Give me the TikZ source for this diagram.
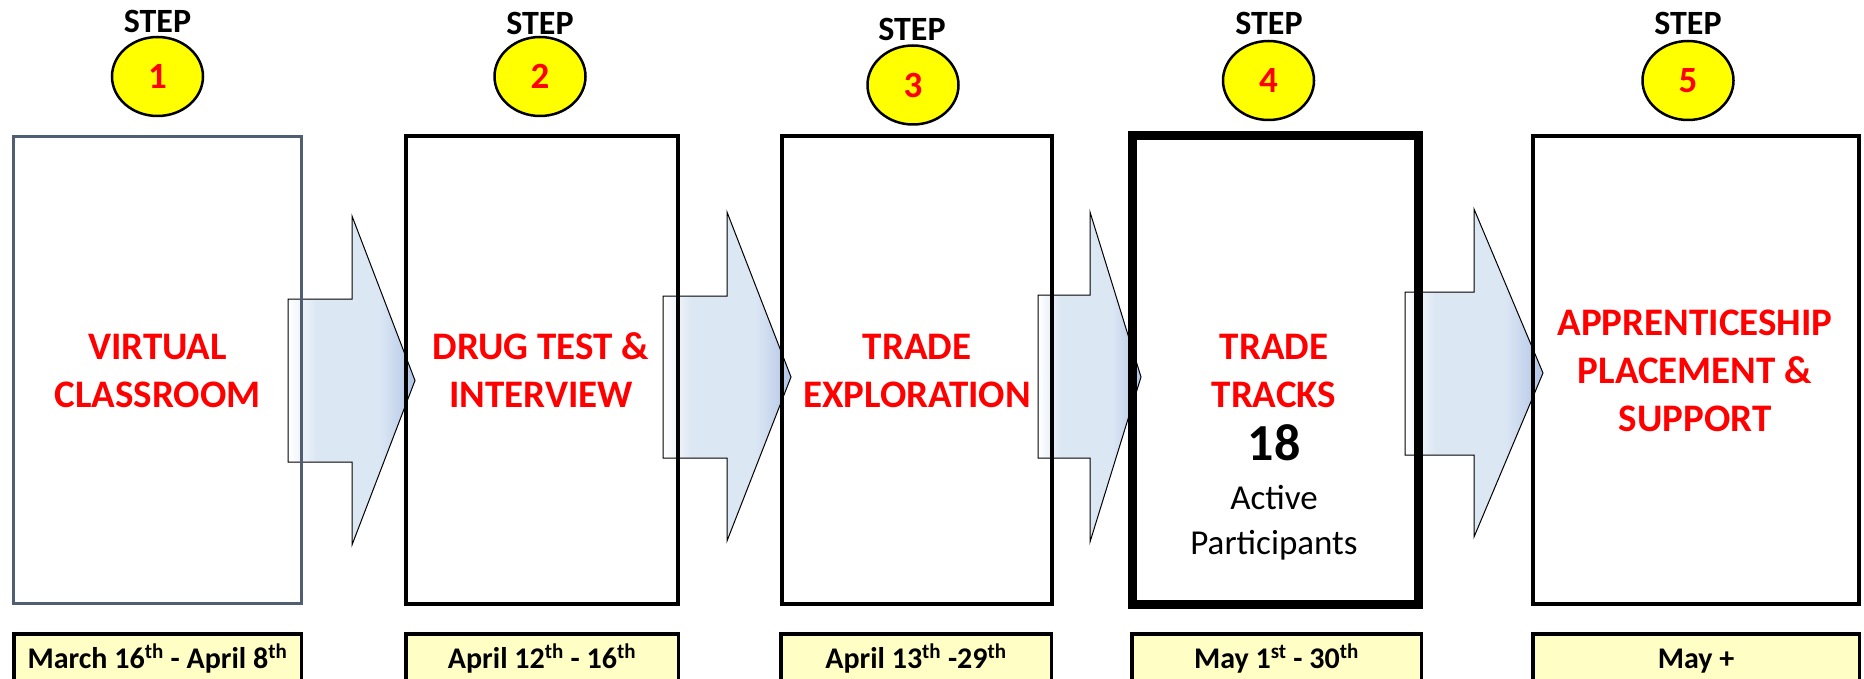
\documentclass[tikz,border=0pt]{standalone}
\usepackage{fontspec}
\setmainfont{Carlito}
\usetikzlibrary{shapes.geometric}
\definecolor{boxgray}{RGB}{80,94,114}
\definecolor{stepred}{RGB}{255,0,0}
\definecolor{stepyellow}{RGB}{255,255,0}
\definecolor{datefill}{RGB}{255,255,197}
\definecolor{ablight}{RGB}{220,231,244}
\definecolor{abdark}{RGB}{178,197,231}
\pgfdeclarehorizontalshading{arrowshade}{100bp}{color(0bp)=(white); color(25bp)=(white); color(36bp)=(ablight); color(61bp)=(ablight); color(75bp)=(abdark); color(100bp)=(abdark)}
\newcommand\blockarrowdraw[8]{%
  \path[blockarrow] (#1,#2) -- (#4,#2) -- (#4,#5) -- (#7,#8) -- (#4,#6) -- (#4,#3) -- (#1,#3) -- cycle;}
\begin{document}
\begin{tikzpicture}[x=1pt,y=-1pt,
  blockarrow/.style={draw=black, line width=1pt, shading=arrowshade, line join=miter},
  mainbox/.style={draw=black, line width=4pt, minimum height=467pt, inner sep=0pt},
  datebox/.style={draw=black, line width=3.5pt, fill=datefill, minimum height=50.5pt, inner sep=0pt,
     text height=18pt, text depth=0pt, font=\fontsize{30}{36}\selectfont\bfseries},
  steplbl/.style={anchor=base, inner sep=0pt, font=\fontsize{34}{40}\selectfont\bfseries},
  stepnum/.style={ellipse, draw=black, line width=2.5pt, fill=stepyellow, minimum width=91pt,
     minimum height=79pt, inner sep=0pt, text=stepred, font=\fontsize{37}{44}\selectfont\bfseries},
  redlbl/.style={anchor=base, inner sep=0pt, text=stepred, font=\fontsize{39}{47}\selectfont\bfseries},
  blklbl/.style={anchor=base, inner sep=0pt, font=\fontsize{35}{42}\selectfont}
]
\useasboundingbox (0,0) rectangle (1864,679);

% block arrows (drawn first, under the boxes)
\blockarrowdraw{288}{299}{462}{352}{216}{545}{415}{380.5}
\blockarrowdraw{663}{296}{458}{727}{212}{541}{791}{377}
\blockarrowdraw{1038}{295}{458}{1090}{212}{542}{1141}{377}
\blockarrowdraw{1405}{292}{455}{1474}{209}{537}{1543}{373}

% main boxes
\node[mainbox, draw=boxgray, line width=3pt, minimum width=288pt] (b1) at (157.5,370) {};
\node[mainbox, minimum width=272pt] (b2) at (542,370) {};
\node[mainbox, minimum width=270pt] (b3) at (917,370) {};
\node[mainbox, line width=9pt, minimum width=286pt, minimum height=468pt] (b4) at (1275.5,370) {};
\node[mainbox, minimum width=326pt] (b5) at (1696,370) {};

% step labels and circles
\node[steplbl] (s1) at (157.5,32.5) {STEP};
\node[steplbl] (s2) at (540,34.6) {STEP};
\node[steplbl] (s3) at (912,41) {STEP};
\node[steplbl] (s4) at (1269,34.6) {STEP};
\node[steplbl] (s5) at (1688,34.6) {STEP};
\node[stepnum] (c1) at (157.5,76.5) {1};
\node[stepnum] (c2) at (540,76.5) {2};
\node[stepnum] (c3) at (913,85) {3};
\node[stepnum] (c4) at (1268.5,80.5) {4};
\node[stepnum] (c5) at (1688,80.5) {5};

% box texts
\node[redlbl] (t1a) at (157.5,359) {VIRTUAL};
\node[redlbl] (t1b) at (157.5,407) {CLASSROOM};
\node[redlbl] (t2a) at (541,359) {DRUG TEST \&};
\node[redlbl] (t2b) at (541,407) {INTERVIEW};
\node[redlbl] (t3a) at (917,359) {TRADE};
\node[redlbl] (t3b) at (917,407) {EXPLORATION};
\node[redlbl] (t4a) at (1274,359) {TRADE};
\node[redlbl] (t4b) at (1274,407) {TRACKS};
\node[anchor=base, inner sep=0pt, font=\fontsize{52}{60}\selectfont\bfseries] (t4c) at (1274,460) {18};
\node[blklbl] (t4d) at (1274,509.5) {Active};
\node[blklbl] (t4e) at (1274,554) {Participants};
\node[redlbl] (t5a) at (1695,335.5) {APPRENTICESHIP};
\node[redlbl] (t5b) at (1695,383) {PLACEMENT \&};
\node[redlbl] (t5c) at (1695,431) {SUPPORT};

% date boxes
\node[datebox, minimum width=287.5pt] (d1) at (157.5,659) {March 16\textsuperscript{th} - April 8\textsuperscript{th}};
\node[datebox, minimum width=272.5pt] (d2) at (542,659) {April 12\textsuperscript{th} - 16\textsuperscript{th}};
\node[datebox, minimum width=270.5pt] (d3) at (916,659) {April 13\textsuperscript{th} -29\textsuperscript{th}};
\node[datebox, minimum width=289.5pt] (d4) at (1276.5,659) {May 1\textsuperscript{st} - 30\textsuperscript{th}};
\node[datebox, minimum width=326.5pt] (d5) at (1696,659) {May +};
\end{tikzpicture}
\end{document}
